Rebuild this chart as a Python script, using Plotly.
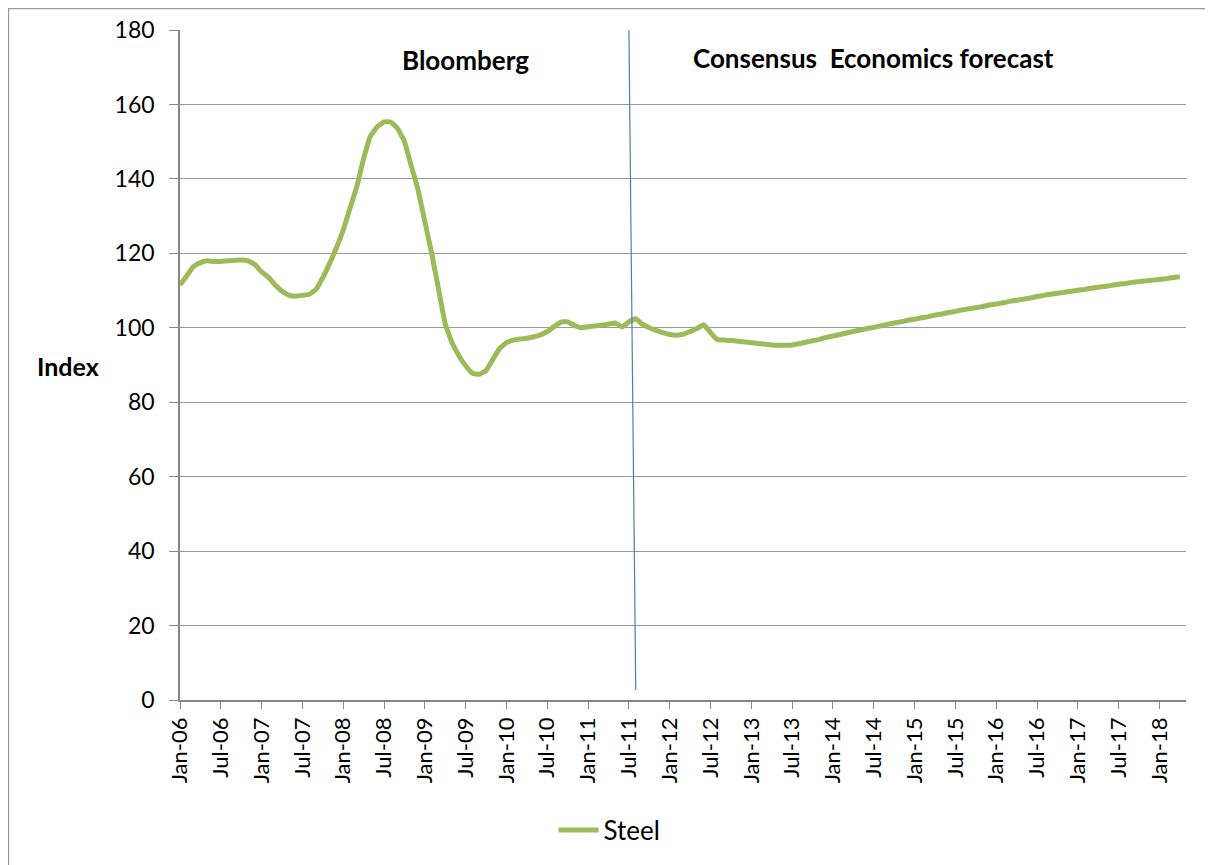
import plotly.graph_objects as go

months_abbr = ["Jan", "Feb", "Mar", "Apr", "May", "Jun", "Jul", "Aug", "Sep", "Oct", "Nov", "Dec"]
categories = [f"{m}-{y:02d}" for y in range(6, 19) for m in months_abbr][:148]

steel = [
    111.5, 114.0, 116.5, 117.5, 118.0, 117.8, 117.8, 118.0, 118.1, 118.2, 118.0, 117.0,
    115.0, 113.6, 111.5, 109.8, 108.8, 108.5, 108.7, 109.0, 110.3, 113.5, 117.3, 121.5,
    126.3, 132.2, 138.0, 145.5, 151.5, 154.0, 155.3, 155.3, 153.5, 150.0, 143.5, 137.0,
    128.5, 120.0, 110.5, 101.0, 96.0, 92.5, 89.8, 87.8, 87.5, 88.5, 91.5, 94.5,
    96.0, 96.7, 97.0, 97.2, 97.6, 98.1, 99.0, 100.3, 101.5, 101.6, 100.6, 100.0,
    100.3, 100.5, 100.7, 101.0, 101.3, 100.2, 101.6, 102.4, 100.9, 100.0, 99.3, 98.7,
    98.2, 98.0, 98.3, 99.0, 99.8, 100.8, 98.7, 96.8, 96.7, 96.6, 96.4, 96.2,
    96.0, 95.8, 95.6, 95.4, 95.3, 95.3, 95.4, 95.7, 96.1, 96.5, 96.9, 97.4,
    97.8, 98.2, 98.6, 99.0, 99.4, 99.8, 100.1, 100.5, 100.9, 101.3, 101.6, 102.0,
    102.3, 102.7, 103.0, 103.4, 103.7, 104.1, 104.4, 104.8, 105.1, 105.4, 105.7, 106.1,
    106.4, 106.7, 107.1, 107.4, 107.7, 108.0, 108.4, 108.7, 109.0, 109.3, 109.5, 109.8,
    110.1, 110.3, 110.6, 110.9, 111.1, 111.4, 111.7, 111.9, 112.2, 112.4, 112.6, 112.8,
    113.0, 113.2, 113.5, 113.7,
]

tick_labels = categories[::6]
divider_x = ["Jul-11", "Aug-11"]
divider_y = [180, 2.7]
y_ticks = [0, 20, 40, 60, 80, 100, 120, 140, 160, 180]

FONT = "Lato, Carlito, Calibri, sans-serif"

# figure is drawn 8px in from the page corner (page body margin)
W, H = 1205, 857
ML, MT, PW, PH = 172, 22, 1006, 670
MR = W - ML - PW
MB = H - MT - PH


def px(fx):
    return (fx - ML) / PW


def py(fy):
    return (MT + PH - fy) / PH


fig = go.Figure()
fig.add_trace(go.Scatter(
    x=categories, y=steel, mode="lines", name="Steel",
    line=dict(color="#9bbb59", width=5, shape="spline", smoothing=0.3),
))
fig.add_trace(go.Scatter(
    x=divider_x, y=divider_y, mode="lines", showlegend=False,
    line=dict(color="#4a7ebb", width=1.2), hoverinfo="skip",
))

fig.update_layout(
    width=W, height=H,
    margin=dict(l=ML, r=MR, t=MT, b=MB, autoexpand=False),
    paper_bgcolor="white", plot_bgcolor="white",
    font=dict(family=FONT, size=22, color="#000000"),
    showlegend=True,
    legend=dict(orientation="h", x=0.427, xanchor="center", y=py(830 - 8), yanchor="middle",
                font=dict(size=26), itemwidth=40),
    xaxis=dict(
        type="category", categoryorder="array", categoryarray=categories,
        range=[0, 147.9],
        tickmode="array", tickvals=tick_labels, ticktext=tick_labels,
        tickangle=-90, ticks="outside", ticklen=7, tickcolor="#868686",
        showline=True, linecolor="#868686", linewidth=1.5,
        showgrid=False, zeroline=False, automargin=False,
        tickfont=dict(size=22),
    ),
    yaxis=dict(
        range=[0, 180], tickvals=y_ticks,
        ticks="outside", ticklen=9, tickcolor="#868686",
        showline=True, linecolor="#868686", linewidth=1.5,
        showgrid=True, gridcolor="#999999", gridwidth=1,
        zeroline=False, automargin=False,
        tickfont=dict(size=23), ticklabelstandoff=10,
    ),
    annotations=[
        dict(text="<b>Bloomberg</b>", x="Jul-09", y=172, xref="x", yref="y",
             showarrow=False, font=dict(size=26), xanchor="center"),
        dict(text="<b>Consensus  Economics forecast</b>", x="Jul-14", y=172.5, xref="x", yref="y",
             showarrow=False, font=dict(size=26), xanchor="center"),
        dict(text="<b>Index</b>", x=px(68 - 8), y=89.7, xref="paper", yref="y",
             showarrow=False, font=dict(size=25), xanchor="center"),
    ],
    shapes=[
        dict(type="rect", xref="paper", yref="paper",
             x0=px(0.6), x1=px(1200),
             y0=py(H + 5), y1=py(0.6),
             line=dict(color="#9a9a9a", width=1.2), fillcolor="rgba(0,0,0,0)", layer="below"),
    ],
)

fig.write_html("out.html")
